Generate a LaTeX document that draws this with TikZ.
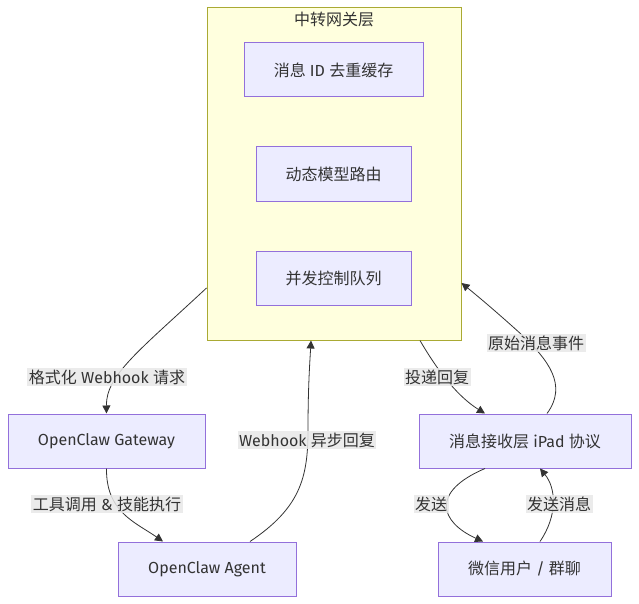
\documentclass[tikz,border=0pt]{standalone}
\usepackage{fontspec}
\setmainfont{Fira Sans}
\newfontfamily\cjk{Noto Sans CJK SC}
\newcommand{\C}[1]{{\cjk #1}}
\usetikzlibrary{arrows.meta}
\definecolor{nodefill}{HTML}{ECECFF}
\definecolor{nodeline}{HTML}{9370DB}
\definecolor{clusterfill}{HTML}{FFFFDE}
\definecolor{clusterline}{HTML}{AAAA33}
\definecolor{txt}{HTML}{333333}
\definecolor{lblbg}{HTML}{E8E8E8}
\tikzset{
  box/.style={draw=nodeline, fill=nodefill, line width=1pt, text=txt, font=\fontsize{16}{19}\selectfont, inner sep=0pt},
  conn/.style={draw=txt, line width=0.8pt, -{Triangle[length=8pt,width=8pt]}},
  lbl/.style={fill=lblbg, fill opacity=0.85, text opacity=1, text=txt, font=\fontsize{16}{19}\selectfont, inner sep=1.5pt},
}
\begin{document}
\begin{tikzpicture}[x=1pt,y=-1pt]
\useasboundingbox (0,0) rectangle (639,604);
% cluster
\node[draw=clusterline, fill=clusterfill, line width=1pt, minimum width=254pt, minimum height=332pt, inner sep=0pt] (cl) at (334,174) {};
\node[text=txt, font=\fontsize{16}{19}\selectfont\cjk, anchor=north] (cltitle) at (334,9) {中转网关层};
% nodes
\node[box, minimum width=179pt, minimum height=54pt] (dedup) at (333.5,70) {\C{消息} ID \C{去重缓存}};
\node[box, minimum width=155pt, minimum height=54pt] (route) at (333.5,174) {\C{动态模型路由}};
\node[box, minimum width=155pt, minimum height=54pt] (queue) at (333.5,278) {\C{并发控制队列}};
\node[box, minimum width=197pt, minimum height=54pt] (gw) at (106.5,441) {OpenClaw Gateway};
\node[box, minimum width=178pt, minimum height=54pt] (agent) at (207,569) {OpenClaw Agent};
\node[box, minimum width=212pt, minimum height=54pt] (ipad) at (525,441) {\C{消息接收层} iPad \C{协议}};
\node[box, minimum width=173pt, minimum height=54pt] (wx) at (524.5,569) {\C{微信用户} / \C{群聊}};
% edges
\draw[conn] (cl.west |- 0,288) .. controls (140,350) and (106,375) .. (gw.north);
\draw[conn] (gw.south) .. controls (106,512) and (135,522) .. (agent.north -| 163,0);
\draw[conn] (agent.north -| 250,0) .. controls (300,508) and (308,478) .. (308,430) .. controls (308,385) and (310,360) .. (cl.south -| 311,0);
\draw[conn] (cl.south -| 420,0) .. controls (440,375) and (460,398) .. (ipad.north -| 485,0);
\draw[conn] (ipad.north -| 547,0) .. controls (568,385) and (548,360) .. (522,335) .. controls (500,315) and (480,298) .. (cl.east |- 0,283);
\draw[conn] (ipad.south -| 485,0) .. controls (430,492) and (440,522) .. (wx.north -| 483,0);
\draw[conn] (wx.north -| 540,0) .. controls (558,515) and (556,488) .. (ipad.south -| 540,0);
% labels
\node[lbl] (l1) at (107,377) {\C{格式化} Webhook \C{请求}};
\node[lbl] (l2) at (107,504) {\C{工具调用} \& \C{技能执行}};
\node[lbl] (l3) at (307,440) {Webhook \C{异步回复}};
\node[lbl] (l4) at (437,377) {\C{投递回复}};
\node[lbl] (l5) at (536,343) {\C{原始消息事件}};
\node[lbl] (l6) at (431,504) {\C{发送}};
\node[lbl] (l7) at (559,504) {\C{发送消息}};
\end{tikzpicture}
\end{document}
